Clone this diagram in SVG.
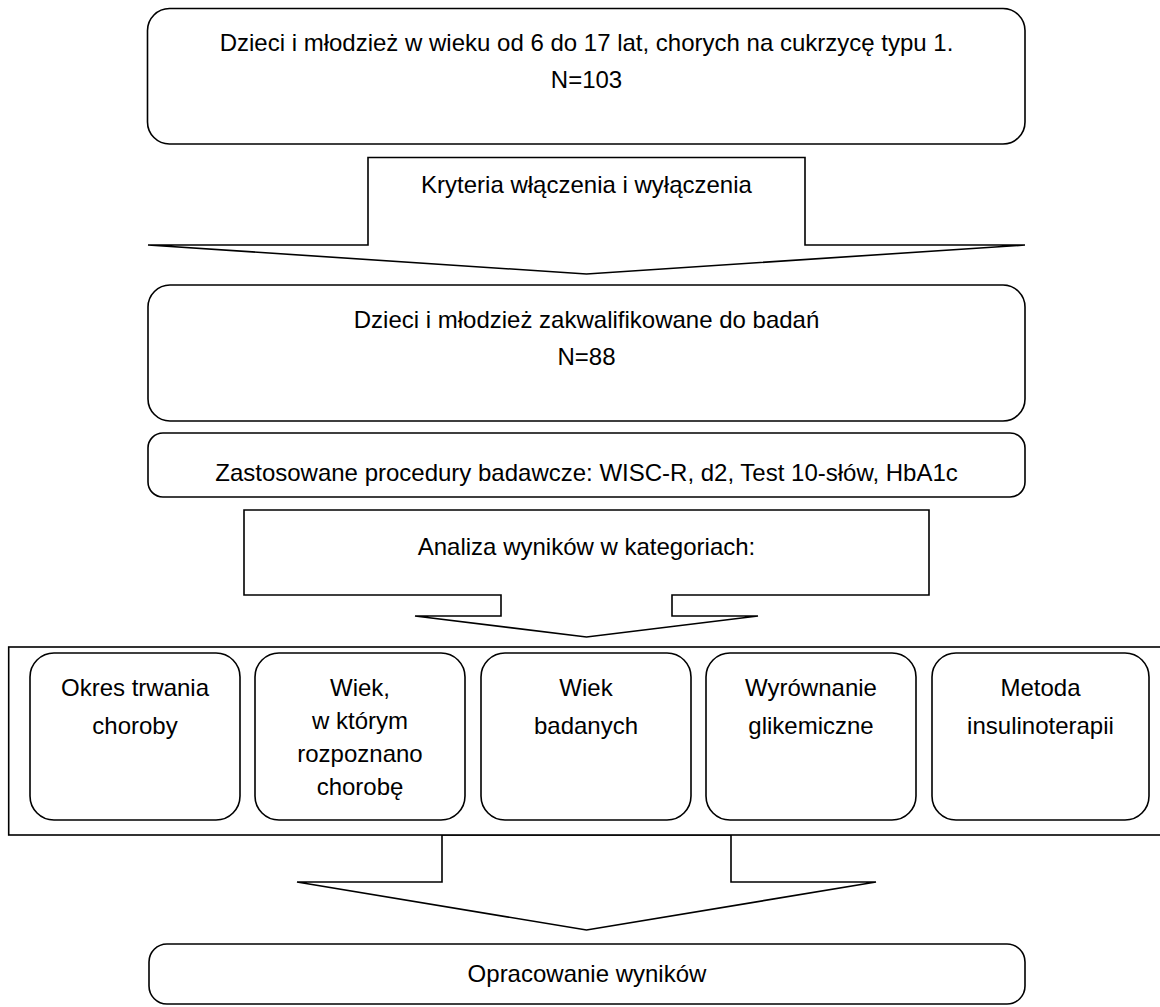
<svg xmlns="http://www.w3.org/2000/svg" width="1160" height="1007" viewBox="0 0 1160 1007">
<style>
.s{fill:#fff;stroke:#000;stroke-width:1.6;stroke-linejoin:miter}
.t{font-family:"Liberation Sans",Arial,sans-serif;font-size:24px;fill:#000;text-anchor:middle}
</style>
<rect width="1160" height="1007" fill="#fff"/>
<g id="connectors">
<polygon class="s" points="442,835 731,835 731,882 876,882 586.5,930 297,882 442,882"/>
</g>
<g id="n-population">
<rect class="s" x="147.5" y="8.5" width="877.5" height="135.5" rx="22" ry="22"/>
<text class="t" x="586.5" y="51">Dzieci i młodzież w wieku od 6 do 17 lat, chorych na cukrzycę typu 1.</text>
<text class="t" x="586.5" y="88">N=103</text>
</g>
<g id="n-criteria">
<polygon class="s" points="368,157.5 805,157.5 805,245 1025,245 586.5,274 148,245 368,245"/>
<text class="t" x="586.5" y="193">Kryteria włączenia i wyłączenia</text>
</g>
<g id="n-qualified">
<rect class="s" x="148" y="285" width="877" height="136" rx="22" ry="22"/>
<text class="t" x="586.5" y="328">Dzieci i młodzież zakwalifikowane do badań</text>
<text class="t" x="586.5" y="365">N=88</text>
</g>
<g id="n-procedures">
<rect class="s" x="148" y="433" width="877" height="64" rx="15" ry="15"/>
<text class="t" x="586.5" y="481">Zastosowane procedury badawcze: WISC-R, d2, Test 10-słów, HbA1c</text>
</g>
<g id="n-analysis">
<polygon class="s" points="244,510 929,510 929,595 672,595 672,616 758,616 586.5,637 415,616 501,616 501,595 244,595"/>
<text class="t" x="586.5" y="555">Analiza wyników w kategoriach:</text>
</g>
<g id="n-categories">
<rect class="s" x="8.7" y="647" width="1165" height="188"/>
<g id="n-cat1">
<rect class="s" x="30" y="653" width="210" height="167" rx="24" ry="24"/>
<text class="t" x="135" y="696">Okres trwania</text>
<text class="t" x="135" y="734">choroby</text>
</g>
<g id="n-cat2">
<rect class="s" x="255" y="653" width="210" height="167" rx="24" ry="24"/>
<text class="t" x="360" y="696">Wiek,</text>
<text class="t" x="360" y="729">w którym</text>
<text class="t" x="360" y="762">rozpoznano</text>
<text class="t" x="360" y="795">chorobę</text>
</g>
<g id="n-cat3">
<rect class="s" x="481" y="653" width="210" height="167" rx="24" ry="24"/>
<text class="t" x="586" y="696">Wiek</text>
<text class="t" x="586" y="734">badanych</text>
</g>
<g id="n-cat4">
<rect class="s" x="706" y="653" width="210" height="167" rx="24" ry="24"/>
<text class="t" x="811" y="696">Wyrównanie</text>
<text class="t" x="811" y="734">glikemiczne</text>
</g>
<g id="n-cat5">
<rect class="s" x="932" y="653" width="217" height="167" rx="24" ry="24"/>
<text class="t" x="1040.5" y="696">Metoda</text>
<text class="t" x="1040.5" y="734">insulinoterapii</text>
</g>
</g>
<g id="n-results">
<rect class="s" x="149" y="944" width="876" height="60" rx="18" ry="18"/>
<text class="t" x="587" y="982">Opracowanie wyników</text>
</g>
</svg>
